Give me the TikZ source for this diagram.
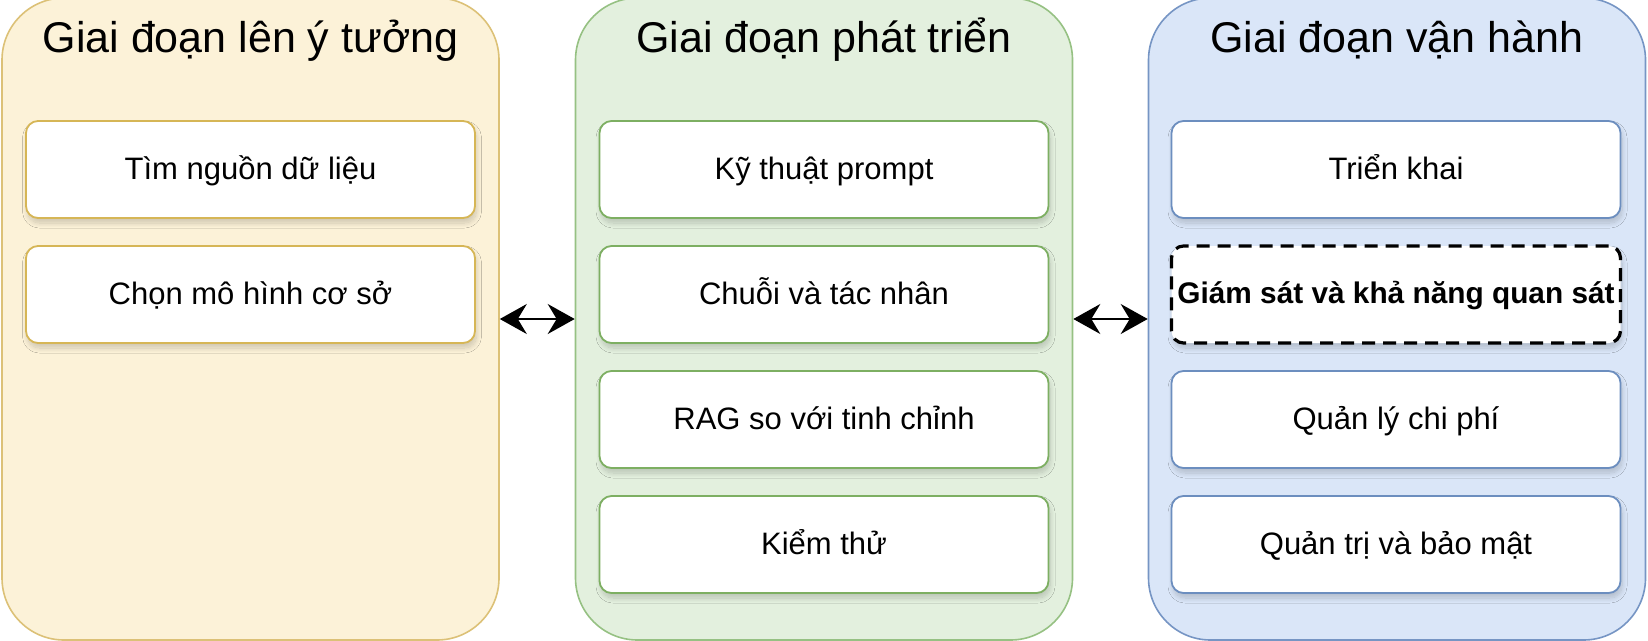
\documentclass[tikz,border=0pt]{standalone}
\usepackage{fontspec}
\setmainfont{Liberation Sans}
\usetikzlibrary{arrows.meta,shadows.blur}
\definecolor{yfill}{HTML}{FCF2D8}
\definecolor{ydraw}{HTML}{DCC177}
\definecolor{yinner}{HTML}{D6B656}
\definecolor{gfill}{HTML}{E3F0DE}
\definecolor{gdraw}{HTML}{96C183}
\definecolor{ginner}{HTML}{7DAF62}
\definecolor{bfill}{HTML}{DAE6F8}
\definecolor{bdraw}{HTML}{7695C4}
\definecolor{binner}{HTML}{6C8EBF}
\tikzset{
  panel/.style={draw=#1, line width=1.6pt, rounded corners=62pt, minimum width=497pt, minimum height=642pt, inner sep=0pt},
  ptitle/.style={anchor=base, font=\fontsize{43}{50}\selectfont, inner sep=0pt},
  sh/.style={blur shadow={shadow xshift=1.5pt, shadow yshift=-5pt, shadow blur radius=5pt, shadow blur steps=10, shadow opacity=18}},
  box/.style={draw=#1, fill=white, line width=1.8pt, rounded corners=12pt, minimum width=449pt, minimum height=97pt, inner sep=0pt,
    text height=22.5pt, text depth=3.5pt, font=\fontsize{31}{36}\selectfont, sh},
  dbox/.style={draw=black, fill=white, line width=3.2pt, dash pattern=on 13pt off 8pt, rounded corners=12pt, minimum width=449pt, minimum height=97pt, inner sep=0pt,
    text height=22pt, text depth=3.5pt, font=\fontsize{29.8}{36}\selectfont\bfseries, sh},
  link/.style={line width=2.2pt, {Stealth[length=27pt,width=30pt,inset=9pt]}-{Stealth[length=27pt,width=30pt,inset=9pt]}}
}
\begin{document}
\begin{tikzpicture}[x=1pt,y=-1pt]
\useasboundingbox (0,0) rectangle (1648,640);
% panels
\node[panel=ydraw, fill=yfill] (pa) at (250.5,319) {};
\node[panel=gdraw, fill=gfill] (pb) at (824,319) {};
\node[panel=bdraw, fill=bfill] (pc) at (1397,319) {};
% titles
\node[ptitle] (ta) at (250.5,52) {Giai đoạn lên ý tưởng};
\node[ptitle] (tb) at (824,52) {Giai đoạn phát triển};
\node[ptitle] (tc) at (1397,52) {Giai đoạn vận hành};
% left boxes
\node[box=yinner] (a1) at (250.5,169.5) {Tìm nguồn dữ liệu};
\node[box=yinner] (a2) at (250.5,294.5) {Chọn mô hình cơ sở};
% middle boxes
\node[box=ginner] (b1) at (824,169.5) {Kỹ thuật prompt};
\node[box=ginner] (b2) at (824,294.5) {Chuỗi và tác nhân};
\node[box=ginner] (b3) at (824,419.5) {RAG so với tinh chỉnh};
\node[box=ginner] (b4) at (824,544.5) {Kiểm thử};
% right boxes
\node[box=binner] (c1) at (1396,169.5) {Triển khai};
\node[dbox] (c2) at (1396,294.5) {Giám sát và khả năng quan sát};
\node[box=binner] (c3) at (1396,419.5) {Quản lý chi phí};
\node[box=binner] (c4) at (1396,544.5) {Quản trị và bảo mật};
% connectors
\draw[link] (pa.east) -- (pb.west);
\draw[link] (pb.east) -- (pc.west);
\end{tikzpicture}
\end{document}
